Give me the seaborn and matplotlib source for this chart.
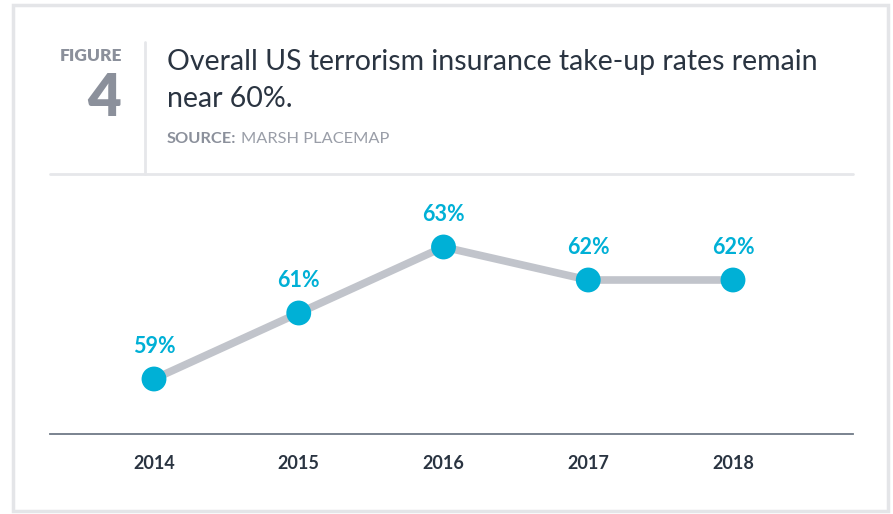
import matplotlib
matplotlib.use('Agg')
import matplotlib.pyplot as plt
import seaborn as sns
import pandas as pd
from matplotlib.patches import Rectangle
from matplotlib.lines import Line2D

years = ['2014', '2015', '2016', '2017', '2018']
take_up = [59, 61, 63, 62, 62]
labels = ['59%', '61%', '63%', '62%', '62%']

df = pd.DataFrame({'pos': range(len(years)), 'rate': take_up})

sns.set_style('white')
plt.rcParams['font.family'] = ['Lato', 'DejaVu Sans']

W, H = 893, 514
fig = plt.figure(figsize=(W / 100, H / 100), dpi=100)

def fx(px):
    return px / W

def fy(py):
    return 1 - py / H

# outer frame
fig.patches.append(Rectangle((fx(13), fy(511)), fx(888) - fx(13), fy(5) - fy(511),
                             transform=fig.transFigure, fill=False,
                             edgecolor='#e4e5e8', linewidth=2.5))
# header separators
fig.lines.append(Line2D([fx(50), fx(853)], [fy(174), fy(174)], transform=fig.transFigure,
                        color='#e6e7ea', linewidth=2))
fig.lines.append(Line2D([fx(145), fx(145)], [fy(42), fy(174)], transform=fig.transFigure,
                        color='#e6e7ea', linewidth=2))

grey = '#8b909b'
fig.text(fx(91), fy(56), 'FIGURE', ha='center', va='center', fontsize=12.5,
         fontweight='heavy', color=grey)
fig.text(fx(104), fy(98), '4', ha='center', va='center', fontsize=42,
         fontweight='heavy', color=grey)
fig.text(fx(167), fy(62), 'Overall US terrorism insurance take-up rates remain',
         ha='left', va='center', fontsize=20.5, color='#2a3441')
fig.text(fx(167), fy(99), 'near 60%.', ha='left', va='center', fontsize=20.5, color='#2a3441')
src = fig.text(fx(167), fy(139), 'SOURCE:', ha='left', va='center', fontsize=11.8,
               fontweight='bold', color=grey)
fig.canvas.draw()
bb = src.get_window_extent()
fig.text(bb.x1 / W + fx(4), fy(139), 'MARSH PLACEMAP', ha='left', va='center',
         fontsize=11.8, color='#9a9ea8')

# chart axes
ax = fig.add_axes([fx(50), fy(434), fx(853) - fx(50), fy(200) - fy(434)])
px_per_unit = (733 - 154) / 4
ax.set_xlim(-(154 - 50) / px_per_unit, (853 - 154) / px_per_unit)
px_per_pct = 33
ax.set_ylim(59 - (434 - 379) / px_per_pct, 59 + (379 - 200) / px_per_pct)

sns.lineplot(data=df, x='pos', y='rate', ax=ax, color='#c1c4cb', linewidth=5.5,
             zorder=2, legend=False)
sns.scatterplot(data=df, x='pos', y='rate', ax=ax, color='#00b0d6', s=320,
                edgecolor='none', zorder=3, legend=False)

for i, (v, lab) in enumerate(zip(take_up, labels)):
    ax.annotate(lab, (i, v), xytext=(0, 16), textcoords='offset points',
                ha='center', va='bottom', fontsize=15.5, fontweight='bold',
                color='#00b0d6')

for s in ['top', 'right', 'left']:
    ax.spines[s].set_visible(False)
ax.spines['bottom'].set_color('#6f7a87')
ax.spines['bottom'].set_linewidth(1.3)
ax.set_yticks([])
ax.set_xticks([i + 0.5 for i in range(len(years) - 1)], minor=False)
ax.set_xticklabels([])
ax.tick_params(axis='x', direction='inout', length=12, width=1, color='#8a939e')
for i, y in enumerate(years):
    ax.text(i, -0.125, y, transform=ax.get_xaxis_transform(), ha='center', va='center',
            fontsize=13, fontweight='bold', color='#2a3441')
ax.set_xlabel('')
ax.set_ylabel('')

fig.savefig('out.png', dpi=100)
